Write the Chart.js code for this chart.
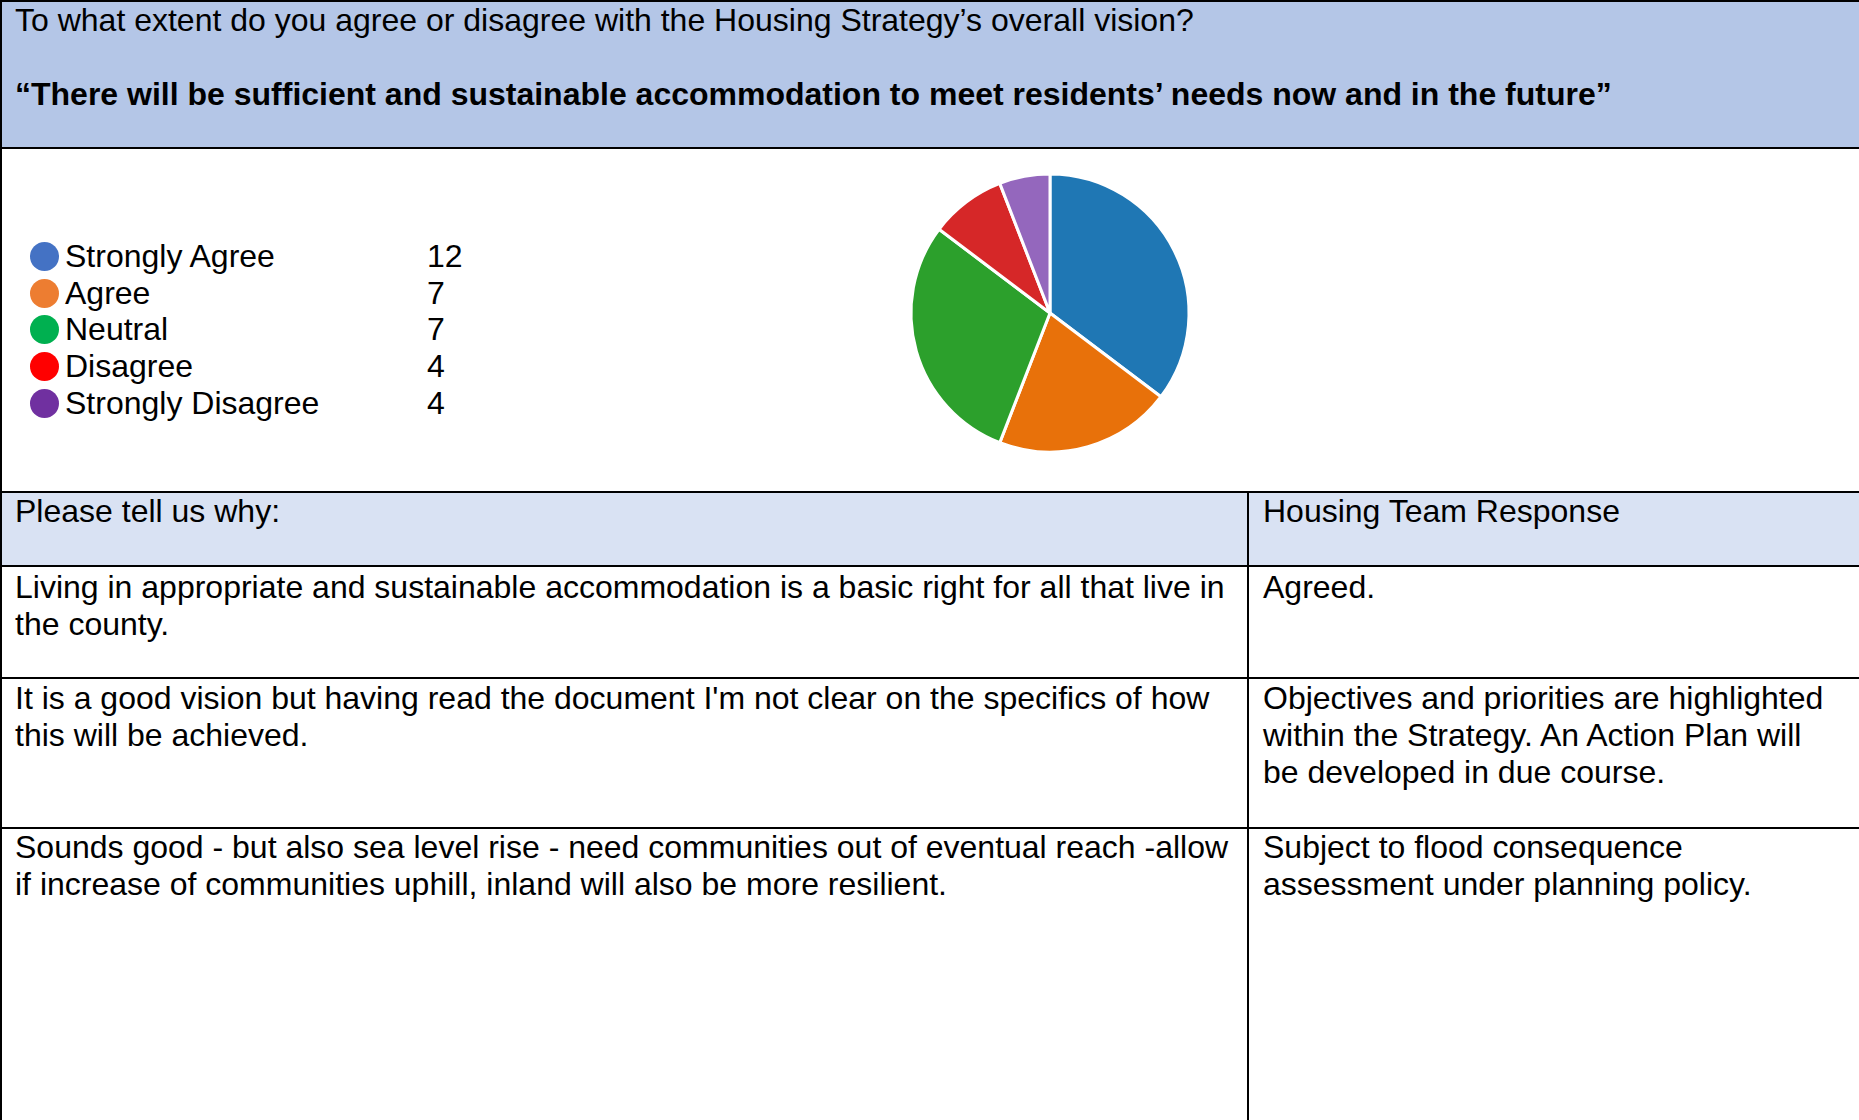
<!DOCTYPE html>
<html>
<head>
<meta charset="utf-8">
<script src="https://cdn.jsdelivr.net/npm/chart.js@4"></script>
<style>
  html, body { margin:0; padding:0; background:#fff; }
  body { width:1859px; height:1120px; overflow:hidden; position:relative;
         font-family:"Liberation Sans", Arial, sans-serif; color:#000; }
  .abs { position:absolute; }
  .line { position:absolute; background:#000; }
  .txt { position:absolute; font-size:32px; line-height:37px; white-space:nowrap; }
  .leg { position:absolute; font-size:32px; line-height:37px; white-space:nowrap; }
  .dot { position:absolute; width:29px; height:29px; border-radius:50%; }
</style>
</head>
<body>
<div class="abs" style="left:0;top:0;width:1859px;height:148px;background:#B4C6E7"></div>
<div class="abs" style="left:0;top:492px;width:1859px;height:74px;background:#D9E2F3"></div>

<div class="line" style="left:0;top:0;width:1859px;height:2px"></div>
<div class="line" style="left:0;top:147px;width:1859px;height:2px"></div>
<div class="line" style="left:0;top:491px;width:1859px;height:2px"></div>
<div class="line" style="left:0;top:565px;width:1859px;height:2px"></div>
<div class="line" style="left:0;top:677px;width:1859px;height:2px"></div>
<div class="line" style="left:0;top:827px;width:1859px;height:2px"></div>
<div class="line" style="left:0;top:0;width:2px;height:1120px"></div>
<div class="line" style="left:1247px;top:491px;width:2px;height:629px"></div>

<div class="txt" style="left:15px;top:2px">To what extent do you agree or disagree with the Housing Strategy’s overall vision?</div>
<div class="txt" style="left:15px;top:76px;font-weight:bold">“There will be sufficient and sustainable accommodation to meet residents’ needs now and in the future”</div>

<div id="legend"></div>

<canvas id="pie" class="abs" style="left:900px;top:163px" width="300" height="300"></canvas>

<div class="txt" style="left:15px;top:493px">Please tell us why:</div>
<div class="txt" style="left:1263px;top:493px">Housing Team Response</div>

<div class="txt" style="left:15px;top:569px">Living in appropriate and sustainable accommodation is a basic right for all that live in<br>the county.</div>
<div class="txt" style="left:1263px;top:569px">Agreed.</div>

<div class="txt" style="left:15px;top:680px">It is a good vision but having read the document I'm not clear on the specifics of how<br>this will be achieved.</div>
<div class="txt" style="left:1263px;top:680px">Objectives and priorities are highlighted<br>within the Strategy. An Action Plan will<br>be developed in due course.</div>

<div class="txt" style="left:15px;top:829px">Sounds good - but also sea level rise - need communities out of eventual reach -allow<br>if increase of communities uphill, inland will also be more resilient.</div>
<div class="txt" style="left:1263px;top:829px">Subject to flood consequence<br>assessment under planning policy.</div>

<script>
// Response categories and printed counts (legend)
const categories = ["Strongly Agree", "Agree", "Neutral", "Disagree", "Strongly Disagree"];
const legendCounts = [12, 7, 7, 4, 4];
// Slice sizes as drawn in the pie
const pieValues = [12, 7, 10, 3, 2];
const legendColors = ["#4472C4", "#ED7D31", "#00B050", "#FF0000", "#7030A0"];
const pieColors = ["#1F77B4", "#E8710A", "#2CA02C", "#D62728", "#9467BD"];

// legend
const leg = document.getElementById('legend');
categories.forEach((c, i) => {
  const y = 238 + i * 36.7;
  const d = document.createElement('div');
  d.className = 'dot';
  d.style.left = '30px';
  d.style.top = (y + 4) + 'px';
  d.style.background = legendColors[i];
  leg.appendChild(d);
  const t = document.createElement('div');
  t.className = 'leg';
  t.style.left = '65px';
  t.style.top = y + 'px';
  t.textContent = c;
  leg.appendChild(t);
  const n = document.createElement('div');
  n.className = 'leg';
  n.style.left = '427px';
  n.style.top = y + 'px';
  n.textContent = String(legendCounts[i]);
  leg.appendChild(n);
});

new Chart(document.getElementById('pie'), {
  type: 'pie',
  data: {
    labels: categories,
    datasets: [{
      data: pieValues,
      backgroundColor: pieColors,
      borderColor: '#ffffff',
      borderWidth: 3,
      hoverOffset: 0
    }]
  },
  options: {
    responsive: false,
    animation: false,
    events: [],
    radius: 139,
    layout: { padding: 0 },
    plugins: { legend: { display: false }, tooltip: { enabled: false } }
  }
});
</script>
</body>
</html>
